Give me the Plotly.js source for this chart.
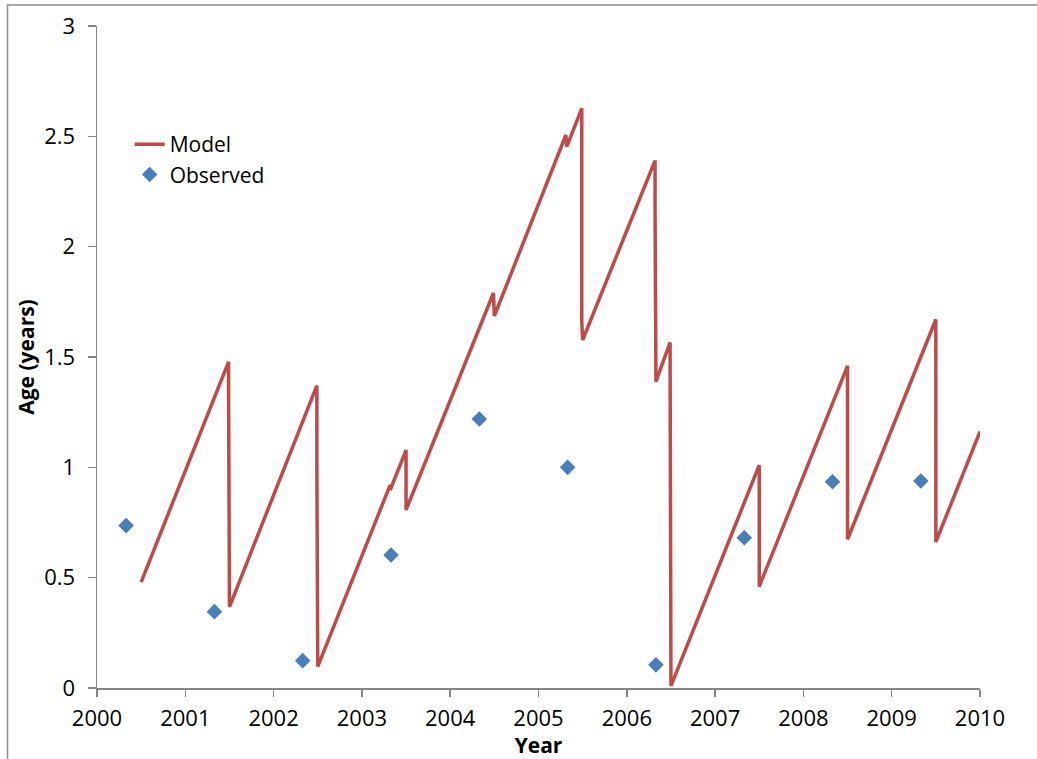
<!DOCTYPE html>
<html>
<head>
<meta charset="utf-8">
<script src="https://cdn.plot.ly/plotly-3.0.1.min.js"></script>
<style>html,body{margin:0;padding:0;background:#fff;}#chart{width:1037px;height:759px;}</style>
</head>
<body>
<div id="chart"></div>
<script>
// Model (sawtooth) values
var modelYear = [2000.5, 2001.49, 2001.49, 2001.5, 2002.49, 2002.49, 2002.5,
  2003.32, 2003.32, 2003.5, 2003.5, 2004.32, 2004.32, 2004.49, 2004.5,
  2005.31, 2005.32, 2005.49, 2005.49, 2005.5, 2006.32, 2006.32, 2006.33,
  2006.49, 2006.5, 2007.5, 2007.5, 2008.5, 2008.5, 2009.5, 2009.5, 2010.0];
var modelAge = [0.48, 1.478, 1.365, 0.368, 1.37, 0.985, 0.097,
  0.92, 0.897, 1.078, 0.807, 1.63, 1.62, 1.79, 1.686,
  2.506, 2.453, 2.627, 1.66, 1.577, 2.39, 2.16, 1.388,
  1.566, 0.01, 1.01, 0.46, 1.46, 0.674, 1.67, 0.662, 1.162];

// Observed values
var obsYear = [2000.33, 2001.33, 2002.33, 2003.33, 2004.33, 2005.33, 2006.33, 2007.33, 2008.33, 2009.33];
var obsAge = [0.736, 0.346, 0.124, 0.603, 1.219, 1.0, 0.105, 0.681, 0.935, 0.938];

var tickYears = [2000, 2001, 2002, 2003, 2004, 2005, 2006, 2007, 2008, 2009, 2010];
var tickAges = [0, 0.5, 1, 1.5, 2, 2.5, 3];

var fontFam = '"Open Sans", "Noto Sans", sans-serif';

var traces = [
  {x: modelYear, y: modelAge, type: 'scatter', mode: 'lines', name: 'Model',
   line: {color: '#BE4B48', width: 3.5}, cliponaxis: false},
  {x: obsYear, y: obsAge, type: 'scatter', mode: 'markers', name: 'Observed',
   marker: {symbol: 'diamond', color: '#4A7EBB', size: 12}}
];

var layout = {
  width: 1037, height: 759,
  margin: {l: 96.5, r: 57, t: 26, b: 71, pad: 0},
  paper_bgcolor: '#ffffff', plot_bgcolor: '#ffffff',
  font: {family: fontFam, size: 21, color: '#000'},
  showlegend: true,
  legend: {x: 0.037, y: 0.852, xanchor: 'left', yanchor: 'top', bgcolor: 'rgba(0,0,0,0)',
           font: {family: fontFam, size: 21, color: '#000'}, tracegroupgap: 0, itemwidth: 30},
  xaxis: {range: [2000, 2010], tickvals: tickYears, ticktext: tickYears.map(String),
          showgrid: false, zeroline: false, showline: true, linecolor: '#868686', linewidth: 1.5,
          ticks: 'outside', ticklen: 7, tickcolor: '#868686', tickwidth: 1.5,
          tickfont: {family: fontFam, size: 22}, ticklabelstandoff: 3,
          title: {text: '<b>Year</b>', font: {family: fontFam, size: 21}, standoff: 0}},
  yaxis: {range: [0, 3], tickvals: tickAges, ticktext: tickAges.map(String),
          showgrid: false, zeroline: false, showline: true, linecolor: '#868686', linewidth: 1.5,
          ticks: 'outside', ticklen: 8, tickcolor: '#868686', tickwidth: 1.5,
          tickfont: {family: fontFam, size: 22}, ticklabelstandoff: 8,
          title: {text: '<b>Age (years)</b>', font: {family: fontFam, size: 21}, standoff: 4}},
  shapes: [{type: 'rect', xref: 'paper', yref: 'paper',
            x0: (7 - 96.5) / 883.5, x1: (1045 - 96.5) / 883.5,
            y0: (688 - 770) / 662, y1: (688 - 5) / 662,
            line: {color: '#8c8c8c', width: 1.5}, fillcolor: 'rgba(0,0,0,0)', layer: 'below'}]
};

Plotly.newPlot('chart', traces, layout, {displayModeBar: false, staticPlot: true});
</script>
</body>
</html>
